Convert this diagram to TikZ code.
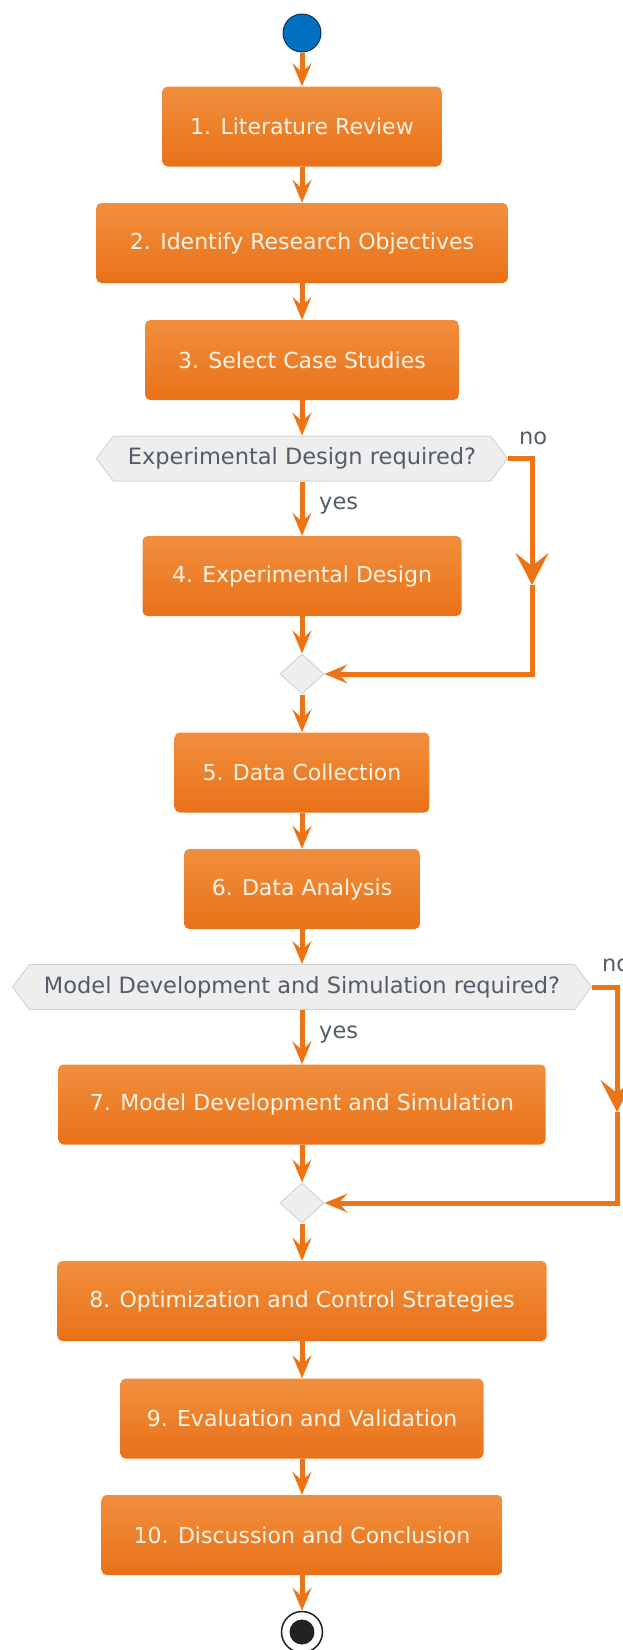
\documentclass[tikz,border=0pt]{standalone}
\usepackage{fontspec}
\setmainfont{DejaVu Sans}
\usetikzlibrary{arrows.meta,shapes.symbols,shapes.geometric}

\definecolor{boxtop}{RGB}{241,143,62}
\definecolor{boxbot}{RGB}{233,113,24}
\definecolor{flowc}{RGB}{236,116,22}
\definecolor{boxtext}{RGB}{255,244,232}
\definecolor{decfill}{RGB}{238,238,238}
\definecolor{decline}{RGB}{212,212,212}
\definecolor{dectext}{RGB}{82,92,106}
\definecolor{startfill}{RGB}{0,112,192}
\definecolor{startline}{RGB}{24,48,72}
\definecolor{endc}{RGB}{34,34,34}

\begin{document}
\begin{tikzpicture}[x=1pt,y=-1pt,
  font=\fontsize{22.5pt}{27pt}\selectfont,
  stepbox/.style={rectangle, rounded corners=5pt, top color=boxtop,
    bottom color=boxbot, draw=none, text=boxtext, minimum height=80pt,
    inner sep=0pt, font=\fontsize{22pt}{26pt}\selectfont},
  decision/.style={shape=signal, signal to=east and west,
    signal pointer angle=106, fill=decfill, draw=decline, line width=1pt,
    text=dectext, minimum height=45pt, inner ysep=0pt, inner xsep=14.5pt},
  merge/.style={diamond, fill=decfill, draw=decline, line width=1pt,
    minimum width=44pt, minimum height=40pt, inner sep=0pt},
  lbl/.style={text=dectext, inner sep=0pt},
  flow/.style={draw=flowc, line width=5pt, line join=miter,
    -{Stealth[length=23pt,width=19pt,inset=9pt]}},
  bigflow/.style={draw=flowc, line width=5pt, line join=miter,
    -{Stealth[length=32pt,width=33pt,inset=13pt]}}
]
\useasboundingbox (0,0) rectangle (623,1650);

% start marker
\node[circle, fill=startfill, draw=startline, line width=1pt,
  minimum size=38pt, inner sep=0pt] (start) at (302,33) {};

% activity steps, decisions and merges
\node[stepbox, minimum width=279pt]   (b1)  at (302,126.5) {1. Literature Review};
\node[stepbox, minimum width=411.5pt] (b2)  at (302,243)   {2. Identify Research Objectives};
\node[stepbox, minimum width=313.6pt] (b3)  at (302,360)   {3. Select Case Studies};
\node[decision] (d1) at (302,458.5) {Experimental Design required?};
\node[stepbox, minimum width=319pt]   (b4)  at (302,576)   {4. Experimental Design};
\node[merge] (m1) at (302,674) {};
\node[stepbox, minimum width=254.7pt] (b5)  at (302,772.5) {5. Data Collection};
\node[stepbox, minimum width=235.7pt] (b6)  at (302,889)   {6. Data Analysis};
\node[decision] (d2) at (302,987) {Model Development and Simulation required?};
\node[stepbox, minimum width=487.3pt] (b7)  at (302,1104.5) {7. Model Development and Simulation};
\node[merge] (m2) at (302,1203) {};
\node[stepbox, minimum width=489.3pt] (b8)  at (302,1301)  {8. Optimization and Control Strategies};
\node[stepbox, minimum width=363pt]   (b9)  at (302,1418.6) {9. Evaluation and Validation};
\node[stepbox, minimum width=401pt]   (b10) at (302,1535)  {10. Discussion and Conclusion};

% end marker
\node[circle, draw=endc, line width=1.5pt, fill=white,
  minimum size=41pt, inner sep=0pt] (stop) at (302,1632) {};
\node[circle, fill=endc, minimum size=25pt, inner sep=0pt] (stopdot) at (stop) {};

% branch labels
\node[lbl, anchor=base west] (yes1) at (319,509.5) {yes};
\node[lbl, anchor=base west] (no1)  at (519,444)   {no};
\node[lbl, anchor=base west] (yes2) at (319,1038.5) {yes};
\node[lbl, anchor=base west] (no2)  at (602,971)   {no};

% bend points of the "no" branches
\coordinate (n1b) at (532,585);
\coordinate (n2b) at (617,1112);

% main flow
\draw[flow] (start.south) -- (b1.north);
\draw[flow] (b1.south) -- (b2.north);
\draw[flow] (b2.south) -- (b3.north);
\draw[flow] (b3.south) -- (d1.north);
\draw[flow] (d1.south) -- (b4.north);
\draw[flow] (b4.south) -- (m1.north);
\draw[bigflow] (d1.east) -| (n1b);
\draw[flow] (n1b) |- (m1.east);
\draw[flow] (m1.south) -- (b5.north);
\draw[flow] (b5.south) -- (b6.north);
\draw[flow] (b6.south) -- (d2.north);
\draw[flow] (d2.south) -- (b7.north);
\draw[flow] (b7.south) -- (m2.north);
\draw[bigflow] (d2.east) -| (n2b);
\draw[flow] (n2b) |- (m2.east);
\draw[flow] (m2.south) -- (b8.north);
\draw[flow] (b8.south) -- (b9.north);
\draw[flow] (b9.south) -- (b10.north);
\draw[flow] (b10.south) -- (stop.north);
\end{tikzpicture}
\end{document}
